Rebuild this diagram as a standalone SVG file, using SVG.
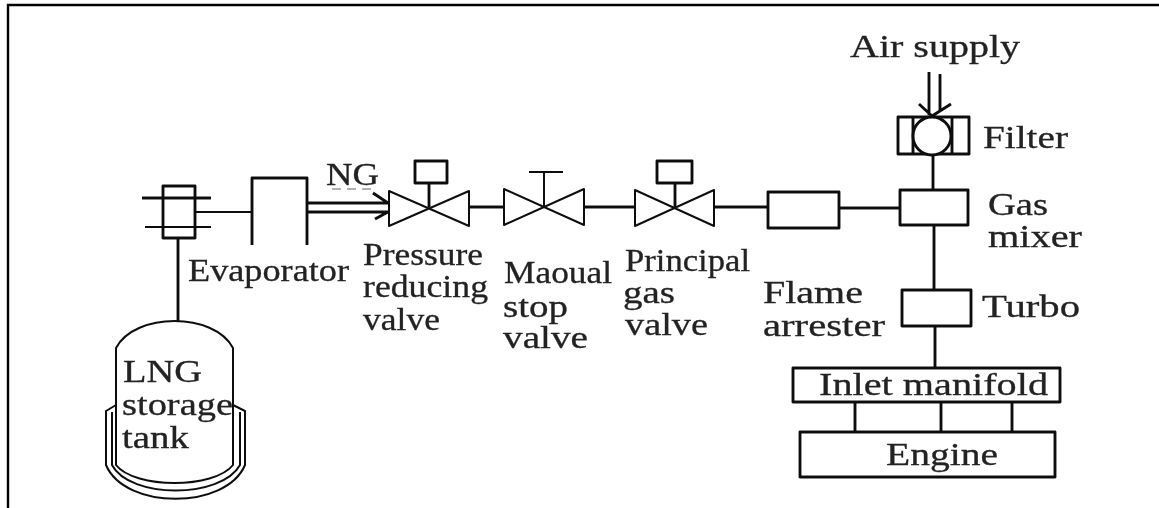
<svg xmlns="http://www.w3.org/2000/svg" width="1159" height="508" viewBox="0 0 1159 508">
<style>
.s{fill:none;stroke:#111;stroke-width:2.9;stroke-linejoin:round}
.w{fill:#fff;stroke:#111;stroke-width:2.9}
.t{stroke-width:2}
text{font-family:"Liberation Serif","Times New Roman",serif;font-size:32px;fill:#222;stroke:#222;stroke-width:.3}
</style>
<defs>
<filter id="b" x="-5%" y="-5%" width="110%" height="110%"><feGaussianBlur stdDeviation="0.45"/></filter>
</defs>
<rect width="1159" height="508" fill="#fff"/>
<g id="frame"><path d="M8 508V5H1159" fill="none" stroke="#000" stroke-width="2.4"/></g>
<g filter="url(#b)">
<g id="connectors">
<path class="s" d="M178 238V322"/>
<path class="s t" d="M195 212H252"/>
<path class="s" d="M307 203H388M373 193L388 203M307 212H388M375 219L388 212"/>
<path class="s" d="M469 207H504M584 207H635M714 207H768M839 208H900"/>
<path class="s" d="M933 154V190M934 225V290M935 326V368"/>
<path class="s" d="M929 72V115M940 74V112M919 104L932 116L951 104"/>
<path class="s" d="M855 402V431M941 402V431M1012 402V431"/>
</g>
<g id="flange"><rect class="s" x="163" y="186" width="32" height="52"/><path class="s" d="M142 198H211"/><path class="s t" d="M145 227H211"/></g>
<g id="evaporator"><path class="s" d="M252 245V178H307V245"/><text x="188" y="281" textLength="161" lengthAdjust="spacingAndGlyphs">Evaporator</text></g>
<g id="tank">
<path class="s t" d="M116 465V348C135 312 214 312 233 348V465C214 489 135 489 116 465Z"/>
<path class="s t" d="M116 405L106 411V465C125 510 226 510 245 465V411L233 405"/>
<path class="s t" d="M112 412V465C130 499 221 499 240 465V412"/>
<text x="123" y="382" textLength="79" lengthAdjust="spacingAndGlyphs">LNG</text>
<text x="122" y="415" textLength="111" lengthAdjust="spacingAndGlyphs">storage</text>
<text x="122" y="448" textLength="67" lengthAdjust="spacingAndGlyphs">tank</text>
</g>
<g id="ng-label"><text x="326" y="185" textLength="53" lengthAdjust="spacingAndGlyphs">NG</text><path d="M332 189H373" stroke="#999" stroke-width="1.5" stroke-dasharray="9 6" fill="none"/></g>
<g id="pressure-valve">
<path class="s t" d="M389 191V226L469 191V226Z"/><path class="s" d="M429 183V207"/><rect class="s" x="415" y="161" width="32" height="22"/>
<text x="363" y="265" textLength="120" lengthAdjust="spacingAndGlyphs">Pressure</text>
<text x="363" y="297" textLength="125" lengthAdjust="spacingAndGlyphs">reducing</text>
<text x="363" y="330" textLength="77" lengthAdjust="spacingAndGlyphs">valve</text>
</g>
<g id="manual-valve">
<path class="s t" d="M504 189V225L584 189V225Z"/><path class="s t" d="M544 172V207M529 172H563"/>
<text x="504" y="283" textLength="108" lengthAdjust="spacingAndGlyphs">Maoual</text>
<text x="503" y="317" textLength="65" lengthAdjust="spacingAndGlyphs">stop</text>
<text x="503" y="348" textLength="85" lengthAdjust="spacingAndGlyphs">valve</text>
</g>
<g id="principal-valve">
<path class="s t" d="M635 190V226L714 190V226Z"/><path class="s" d="M675 183V207"/><rect class="s" x="657" y="161" width="35" height="22"/>
<text x="625" y="271" textLength="125" lengthAdjust="spacingAndGlyphs">Principal</text>
<text x="623" y="303" textLength="52" lengthAdjust="spacingAndGlyphs">gas</text>
<text x="625" y="335" textLength="83" lengthAdjust="spacingAndGlyphs">valve</text>
</g>
<g id="flame-arrester">
<rect class="s" x="768" y="192" width="71" height="36"/>
<text x="763" y="303" textLength="100" lengthAdjust="spacingAndGlyphs">Flame</text>
<text x="763" y="336" textLength="122" lengthAdjust="spacingAndGlyphs">arrester</text>
</g>
<g id="air-supply"><text x="850" y="57" textLength="170" lengthAdjust="spacingAndGlyphs">Air supply</text></g>
<g id="filter">
<rect class="s" x="898" y="117" width="71" height="37"/><path class="s" d="M913 117V154M952 117V154"/>
<circle class="w" cx="932" cy="136" r="19"/>
<text x="983" y="148" textLength="85" lengthAdjust="spacingAndGlyphs">Filter</text>
</g>
<g id="gas-mixer">
<rect class="s" x="900" y="190" width="68" height="35"/>
<text x="988" y="215" textLength="60" lengthAdjust="spacingAndGlyphs">Gas</text>
<text x="988" y="247" textLength="94" lengthAdjust="spacingAndGlyphs">mixer</text>
</g>
<g id="turbo">
<rect class="s" x="902" y="290" width="69" height="36"/>
<text x="982" y="317" textLength="98" lengthAdjust="spacingAndGlyphs">Turbo</text>
</g>
<g id="inlet-manifold">
<rect class="s" x="793" y="368" width="267" height="34"/>
<text x="819" y="395" textLength="229" lengthAdjust="spacingAndGlyphs">Inlet manifold</text>
</g>
<g id="engine">
<rect class="s" x="800" y="432" width="255" height="45"/>
<text x="886" y="465" textLength="112" lengthAdjust="spacingAndGlyphs">Engine</text>
</g>
</g>
</svg>
